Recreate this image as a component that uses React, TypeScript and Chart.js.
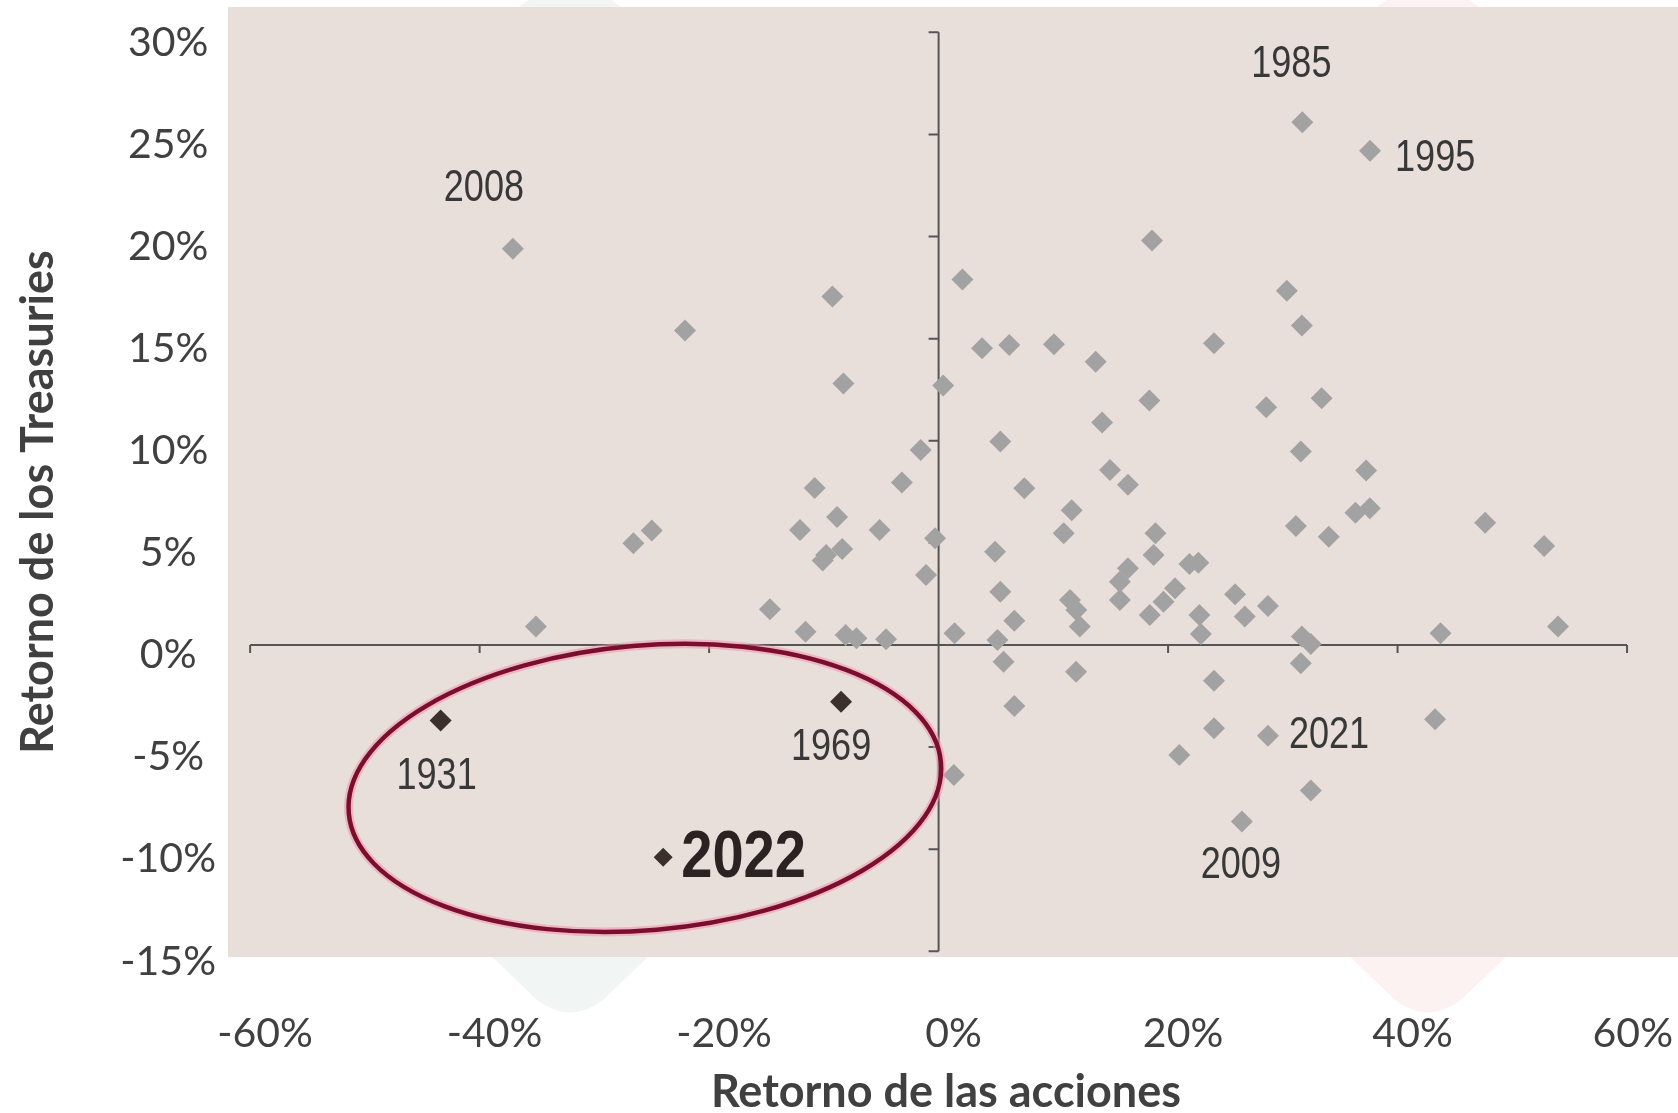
import { useEffect, useRef } from 'react';
import { Chart, registerables } from 'chart.js';

Chart.register(...registerables);

const CANVAS_W = 1678;
const CANVAS_H = 1113;

// Annual returns in % — x: stocks, y: 10-year Treasuries (unlabelled years).
const STOCK_RETURNS = [
  -22.1, -9.25, -8.3, -1.56, -3.2, -10.8, -8.85, -12.08, -5.14, -0.31, -8.4,
  -9.8, -10.1, -1.1, -25.0, -26.6, -35.1, -14.7, -11.6, -8.1, -7.16, -4.58,
  0.4, 2.08, 3.79, 6.16, 10.05, 13.69, 18.6, 30.35, 31.66, 24.0, 14.25, 5.38,
  7.47, 14.94, 16.5, 18.37, 28.55, 33.38, 31.57, 37.26, 36.33, 37.58, 31.14,
  34.0, 47.63, 52.77, 53.98, 43.74, 31.66, 32.44, 18.9, 18.74, 21.86, 22.64,
  16.5, 15.8, 15.8, 20.6, 19.6, 18.4, 22.73, 22.86, 25.84, 26.68, 28.7, 31.57,
  24.0, 24.0, 43.27, 20.98, 32.44, 1.33, 1.39, 4.92, 5.38, 6.6, 5.13, 5.66,
  6.6, 11.6, 10.9, 11.45, 12.0, 12.3, 11.98,
];
const TREASURY_RETURNS = [
  15.4, 17.06, 12.8, 9.55, 7.95, 7.69, 6.27, 5.63, 5.63, 5.22, 4.7,
  4.41, 4.13, 3.43, 5.6, 4.98, 0.9, 1.75, 0.65, 0.49, 0.33, 0.28,
  12.7, 17.9, 14.53, 14.69, 14.72, 13.87, 19.8, 17.35, 15.64, 14.77, 10.89, 9.96,
  7.67, 8.57, 7.84, 11.97, 11.64, 12.08, 9.47, 8.54, 6.48, 6.69, 5.83,
  5.3, 5.99, 4.85, 0.9, 0.57, 0.41, 0.05, 5.47, 4.41, 3.97, 4.03,
  3.76, 3.1, 2.2, 2.78, 2.12, 1.47, 1.47, 0.54, 2.48, 1.39, 1.91, -0.9,
  -1.75, -4.08, -3.64, -5.39, -7.13, -6.37, 0.57, 4.57, 2.61, 1.19, 0.24, -0.82,
  -2.99, 6.6, 5.47, 2.2, 1.71, 0.9, -1.31,
];

// Gray years that carry a year label.
const LABELED_YEARS = ['2008', '1985', '1995', '2021', '2009'];
const LABELED_STOCK = [-37.1, 31.7, 37.6, 28.7, 26.43];
const LABELED_TREASURY = [19.4, 25.6, 24.2, -4.44, -8.65];

// Years drawn in dark.
const HIGHLIGHT_YEARS = ['1931', '1969', '2022'];
const HIGHLIGHT_STOCK = [-43.4, -8.5, -24.0];
const HIGHLIGHT_TREASURY = [-3.7, -2.78, -10.4];

const X_TICKS = [-60, -40, -20, 0, 20, 40, 60];
const Y_TICKS = [-15, -10, -5, 0, 5, 10, 15, 20, 25, 30];

// Plot window (data units) — slightly wider than the tick range.
const X_MIN = -61.93;
const X_MAX = 64.44;
const Y_MIN = -15.28;
const Y_MAX = 31.24;

// Year label placement relative to its marker (pixels).
const LABEL_PLACEMENT: Record<string, { dx: number; dy: number; align: CanvasTextAlign; bold?: boolean }> = {
  '2008': { dx: -29, dy: -60, align: 'center' },
  '1985': { dx: -11, dy: -57, align: 'center' },
  '1995': { dx: 25, dy: 8, align: 'left' },
  '2021': { dx: 21, dy: 0, align: 'left' },
  '2009': { dx: -1, dy: 44, align: 'center' },
  '1931': { dx: -4, dy: 56, align: 'center' },
  '1969': { dx: -10, dy: 46, align: 'center' },
  '2022': { dx: 18, dy: 1, align: 'left', bold: true },
};

// Highlight ring around the bear-market years (data units, tilt in degrees).
const RING = { cx: -25.6, cy: -7.0, rx: 25.9, ry: 6.97, tilt: -4.9 };

const PLOT_BG = '#e8dfdb';
const TEXT_COLOR = '#404040';
const AXIS_COLOR = '#555555';
const TICK_FONT = 'Lato, "Open Sans", sans-serif';
const YEAR_FONT = '"Liberation Sans", Arial, sans-serif';
const NARROW = 0.82; // horizontal squeeze for the year labels

const backdrop = {
  id: 'backdrop',
  beforeDraw(chart: any) {
    const { ctx, chartArea } = chart;
    ctx.save();
    // faint logo shapes behind the slide
    const drop = (cx: number, color: string) => {
      ctx.fillStyle = color;
      ctx.beginPath();
      ctx.moveTo(cx - 86, chartArea.bottom - 8);
      ctx.lineTo(cx - 33, 1000);
      ctx.quadraticCurveTo(cx, 1025, cx + 33, 1000);
      ctx.lineTo(cx + 86, chartArea.bottom - 8);
      ctx.closePath();
      ctx.fill();
      ctx.beginPath();
      ctx.ellipse(cx, 30, 62, 40, 0, 0, Math.PI * 2);
      ctx.fill();
    };
    drop(570, '#f1f5f3');
    drop(1428, '#fdf2f2');
    ctx.fillStyle = PLOT_BG;
    ctx.fillRect(chartArea.left, chartArea.top, chartArea.right - chartArea.left, chartArea.bottom - chartArea.top);
    ctx.restore();
  },
};

const crossAxes = {
  id: 'crossAxes',
  beforeDatasetsDraw(chart: any) {
    const { ctx, scales: { x, y } } = chart;
    const x0 = x.getPixelForValue(0);
    const y0 = y.getPixelForValue(0);
    ctx.save();
    ctx.strokeStyle = AXIS_COLOR;
    ctx.lineWidth = 2;
    ctx.beginPath();
    ctx.moveTo(x.getPixelForValue(X_TICKS[0]), y0);
    ctx.lineTo(x.getPixelForValue(X_TICKS[X_TICKS.length - 1]), y0);
    ctx.moveTo(x0, y.getPixelForValue(Y_TICKS[Y_TICKS.length - 1]));
    ctx.lineTo(x0, y.getPixelForValue(Y_TICKS[0]));
    X_TICKS.forEach((v) => {
      const px = x.getPixelForValue(v);
      ctx.moveTo(px, y0);
      ctx.lineTo(px, y0 + 8);
    });
    Y_TICKS.forEach((v) => {
      const py = y.getPixelForValue(v);
      ctx.moveTo(x0 - 10, py);
      ctx.lineTo(x0, py);
    });
    ctx.stroke();
    ctx.restore();
  },
};

const ringAndLabels = {
  id: 'ringAndLabels',
  afterDatasetsDraw(chart: any) {
    const { ctx, scales: { x, y } } = chart;
    ctx.save();
    const cx = x.getPixelForValue(RING.cx);
    const cy = y.getPixelForValue(RING.cy);
    const rx = Math.abs(x.getPixelForValue(RING.cx + RING.rx) - cx);
    const ry = Math.abs(y.getPixelForValue(RING.cy + RING.ry) - cy);
    ctx.beginPath();
    ctx.ellipse(cx, cy, rx, ry, (RING.tilt * Math.PI) / 180, 0, Math.PI * 2);
    ctx.strokeStyle = 'rgba(238, 150, 172, 0.55)';
    ctx.lineWidth = 9;
    ctx.stroke();
    ctx.strokeStyle = '#7b0e2e';
    ctx.lineWidth = 4.5;
    ctx.stroke();

    const entries = [
      ...LABELED_YEARS.map((year, i) => ({ year, sx: LABELED_STOCK[i], ty: LABELED_TREASURY[i] })),
      ...HIGHLIGHT_YEARS.map((year, i) => ({ year, sx: HIGHLIGHT_STOCK[i], ty: HIGHLIGHT_TREASURY[i] })),
    ];
    ctx.textBaseline = 'middle';
    entries.forEach((e) => {
      const p = LABEL_PLACEMENT[e.year];
      ctx.save();
      ctx.translate(x.getPixelForValue(e.sx) + p.dx, y.getPixelForValue(e.ty) + p.dy);
      ctx.scale(p.bold ? 0.85 : NARROW, 1);
      ctx.font = p.bold ? `bold 66px ${YEAR_FONT}` : `44px ${YEAR_FONT}`;
      ctx.fillStyle = p.bold ? '#2b2321' : '#383838';
      ctx.textAlign = p.align;
      ctx.fillText(e.year, 0, 0);
      ctx.restore();
    });
    ctx.restore();
  },
};

// keep the last x tick label inside the canvas
const keepTickLabelsInside = {
  id: 'keepTickLabelsInside',
  beforeDraw(chart: any) {
    const scale = chart.scales.x;
    const items = scale.getLabelItems();
    const { ctx } = chart;
    ctx.save();
    items.forEach((item: any) => {
      ctx.font = item.font.string;
      const half = ctx.measureText(String(item.label)).width / 2;
      const maxX = chart.width - 5 - half;
      if (item.options.translation[0] > maxX) item.options.translation[0] = maxX;
    });
    ctx.restore();
  },
};

const axisTitles = {
  id: 'axisTitles',
  afterDraw(chart: any) {
    const { ctx } = chart;
    ctx.save();
    ctx.fillStyle = TEXT_COLOR;
    ctx.font = `bold 45px ${TICK_FONT}`;
    ctx.textAlign = 'center';
    ctx.textBaseline = 'alphabetic';
    ctx.fillText('Retorno de las acciones', 946, 1107);
    ctx.translate(53, 502);
    ctx.rotate(-Math.PI / 2);
    ctx.fillText('Retorno de los Treasuries', 0, 0);
    ctx.restore();
  },
};

export default function App() {
  const canvasRef = useRef<HTMLCanvasElement>(null);

  useEffect(() => {
    const canvas = canvasRef.current;
    if (!canvas) return;
    const gray = STOCK_RETURNS.map((v, i) => ({ x: v, y: TREASURY_RETURNS[i] })).concat(
      LABELED_STOCK.map((v, i) => ({ x: v, y: LABELED_TREASURY[i] })),
    );
    const dark = HIGHLIGHT_STOCK.map((v, i) => ({ x: v, y: HIGHLIGHT_TREASURY[i] }));

    const chart = new Chart(canvas, {
      type: 'scatter',
      data: {
        datasets: [
          {
            label: 'Años',
            data: gray,
            pointStyle: 'rectRot',
            pointRadius: 11,
            backgroundColor: '#a3a2a2',
            borderWidth: 0,
          },
          {
            label: 'Años destacados',
            data: dark,
            pointStyle: 'rectRot',
            pointRadius: [11, 11, 9.5],
            backgroundColor: '#3b302c',
            borderWidth: 0,
          },
        ],
      },
      options: {
        animation: false,
        responsive: false,
        devicePixelRatio: 1,
        layout: { autoPadding: false, padding: { top: 7, right: 0, bottom: 0, left: 0 } },
        plugins: { legend: { display: false }, tooltip: { enabled: false } },
        scales: {
          x: {
            type: 'linear',
            min: X_MIN,
            max: X_MAX,
            afterBuildTicks: (axis: any) => {
              axis.ticks = X_TICKS.map((value) => ({ value }));
            },
            afterFit: (axis: any) => {
              axis.height = CANVAS_H - 957;
              axis.paddingLeft = 0;
              axis.paddingRight = 0;
            },
            grid: { display: false, drawTicks: false },
            border: { display: false },
            ticks: {
              autoSkip: false,
              maxRotation: 0,
              labelOffset: 15,
              padding: 52,
              color: TEXT_COLOR,
              font: { family: TICK_FONT, size: 41 },
              callback: (v: any) => `${v}%`,
            },
          },
          y: {
            type: 'linear',
            min: Y_MIN,
            max: Y_MAX,
            afterBuildTicks: (axis: any) => {
              axis.ticks = Y_TICKS.map((value) => ({ value }));
            },
            afterFit: (axis: any) => {
              axis.width = 228;
              axis.paddingTop = 0;
              axis.paddingBottom = 0;
            },
            grid: { display: false, drawTicks: false },
            border: { display: false },
            ticks: {
              autoSkip: false,
              crossAlign: 'center',
              labelOffset: 10,
              padding: 12,
              color: TEXT_COLOR,
              font: { family: TICK_FONT, size: 41 },
              callback: (v: any) => `${v}%`,
            },
          },
        },
      },
      plugins: [backdrop, keepTickLabelsInside, crossAxes, ringAndLabels, axisTitles],
    });
    return () => chart.destroy();
  }, []);

  return (
    <div style={{ position: 'fixed', left: 0, top: 0, width: CANVAS_W, height: CANVAS_H, background: '#ffffff' }}>
      <canvas ref={canvasRef} width={CANVAS_W} height={CANVAS_H} style={{ display: 'block' }} />
    </div>
  );
}
